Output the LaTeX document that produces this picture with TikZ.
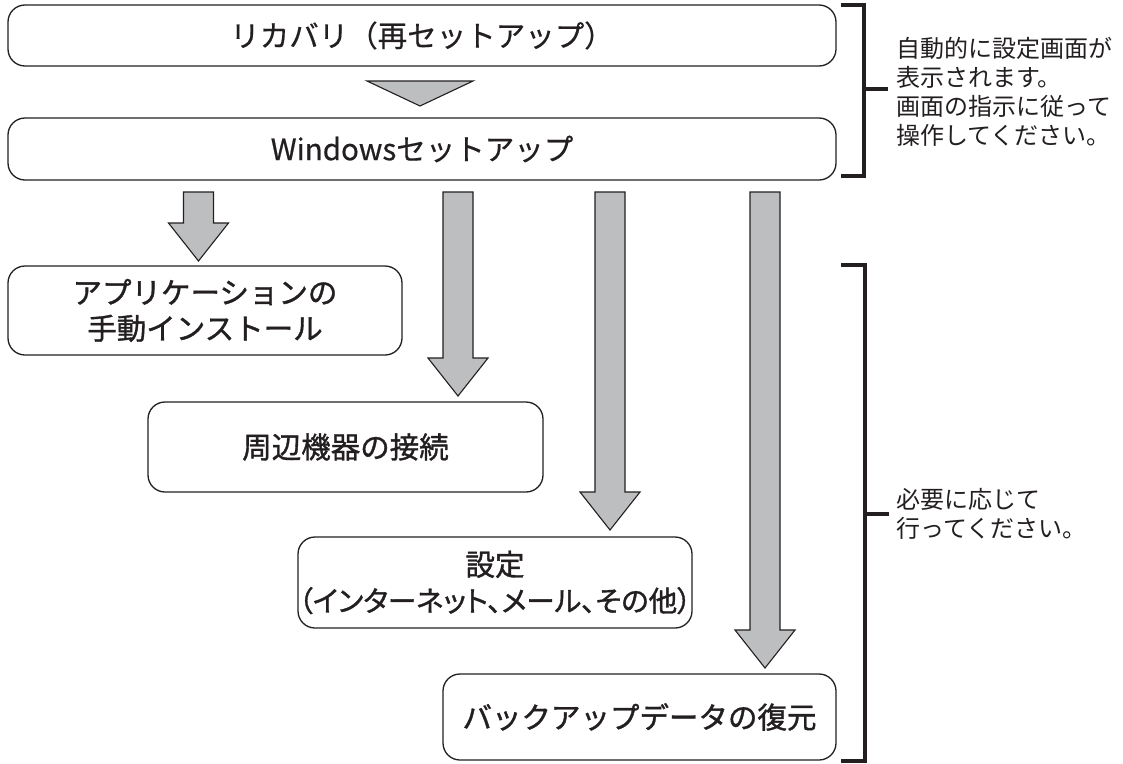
\documentclass[tikz,border=0pt]{standalone}
\usepackage{fontspec}
\setmainfont{Noto Sans CJK JP}
\newfontfamily\jpt[FakeBold=0.5]{Noto Sans CJK JP}
\newfontfamily\jpb[FakeBold=1.2]{Noto Sans CJK JP}
\newfontfamily\jpp[FakeBold=1.2,RawFeature=+palt]{Noto Sans CJK JP}
\usetikzlibrary{calc}
\definecolor{arrowgray}{RGB}{188,190,192}
\definecolor{ink}{RGB}{35,31,32}
\tikzset{
  box/.style={draw=ink, line width=1.3pt, rounded corners=17pt, fill=white, inner sep=0pt, align=center, text=ink},
  toptext/.style={font=\jpt\fontsize{29.5}{34}\selectfont},
  lowtext/.style={font=\jpb\fontsize{29.5}{36}\selectfont},
  arr/.style={fill=arrowgray, draw=ink, line width=1.1pt, line join=miter},
  brk/.style={draw=ink, line width=3.3pt, line join=miter},
  side/.style={font=\fontsize{24}{29}\selectfont, align=left, text=ink, inner sep=0pt, anchor=west}
}
\newcommand\blockarrow[2]{%
  \draw[arr] ($(#1)+(-15,0)$) -- ($(#1)+(15,0)$) -- ($(#2)+(15,-38)$) -- ($(#2)+(30,-38)$)
    -- (#2) -- ($(#2)+(-30,-38)$) -- ($(#2)+(-15,-38)$) -- cycle;}
\begin{document}
\begin{tikzpicture}[x=1pt,y=-1pt]
\useasboundingbox[fill=white] (0,0) rectangle (1123,763);

% boxes
\node[box, toptext, minimum width=828pt, minimum height=61pt] (recov) at (422,35.5) {リカバリ（再セットアップ）};
\node[box, toptext, minimum width=828pt, minimum height=62pt] (winset) at (422,149) {Windowsセットアップ};
\node[box, lowtext, minimum width=394pt, minimum height=89pt] (appinst) at (205,310.5) {アプリケーションの\\手動インストール};
\node[box, lowtext, minimum width=395pt, minimum height=90pt] (periph) at (345.5,447) {周辺機器の接続};
\node[box, lowtext, minimum width=394pt, minimum height=91pt] (settings) at (495,582.5) {設定\\{\jpp\fontsize{28.5}{36}\selectfont （インターネット、メール、その他）}};
\node[box, lowtext, minimum width=393pt, minimum height=86pt] (restore) at (639.5,717) {バックアップデータの復元};

% triangle between the first two boxes
\coordinate (tl) at (367,81);
\coordinate (tr) at (473,81);
\coordinate (tp) at (420,106);
\draw[arr] (tl) -- (tr) -- (tp) -- cycle;

% block arrows
\coordinate (sA) at (198.5,192); \coordinate (eA) at (198.5,261);
\coordinate (sB) at (458,192);   \coordinate (eB) at (458,396);
\coordinate (sC) at (610,192);   \coordinate (eC) at (610,530);
\coordinate (sD) at (765,192);   \coordinate (eD) at (765,668);
\blockarrow{sA}{eA}
\blockarrow{sB}{eB}
\blockarrow{sC}{eC}
\blockarrow{sD}{eD}

% brackets
\draw[brk] (841,5) -- (864,5) -- (864,176) -- (841,176);
\draw[brk] (864,89) -- (888,89);
\draw[brk] (841,265) -- (865,265) -- (865,761) -- (841,761);
\draw[brk] (865,514) -- (889,514);

% side notes
\node[side] (note1) at (896,91.5) {自動的に設定画面が\\表示されます。\\画面の指示に従って\\操作してください。};
\node[side] (note2) at (896,514) {必要に応じて\\行ってください。};
\end{tikzpicture}
\end{document}
